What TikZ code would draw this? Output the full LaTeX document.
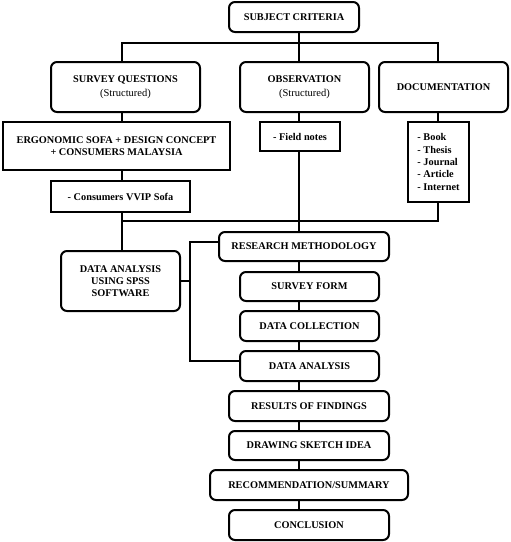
\documentclass[tikz,border=0pt]{standalone}
\usepackage{fontspec}
\setmainfont{Liberation Serif}
\usetikzlibrary{positioning}
\tikzset{
  box/.style={draw,line width=2pt,align=center,inner sep=1pt,
    font=\bfseries\fontsize{10.3}{12}\selectfont},
  rbox/.style={box,rounded corners=6pt},
  sz/.style 2 args={minimum width=#1pt,minimum height=#2pt},
  wire/.style={line width=2pt}
}
\begin{document}
\begin{tikzpicture}[x=1pt,y=-1pt]
\useasboundingbox (0,0) rectangle (511,542);
% columns and buses
\coordinate (lft) at (122,0);
\coordinate (spine) at (299,0);
\coordinate (rgt) at (438,0);
\coordinate (brk) at (190,0);
\coordinate (busA) at (0,43);
\coordinate (busB) at (0,221);
% top part
\node[rbox,sz={130}{30}] (crit) at (294,17) {SUBJECT CRITERIA};
\node[rbox,sz={149}{50}] (survey) at (125.5,87) {SURVEY QUESTIONS\\[2pt]{\mdseries\fontsize{10.5}{12}\selectfont(Structured)}};
\node[rbox,sz={129}{50}] (obs) at (304.5,87) {OBSERVATION\\[2pt]{\mdseries\fontsize{10.5}{12}\selectfont(Structured)}};
\node[rbox,sz={129}{50}] (doc) at (443.5,87) {DOCUMENTATION};
\node[box,sz={227}{48}] (ergo) at (116.5,146) {ERGONOMIC SOFA + DESIGN CONCEPT\\+ CONSUMERS MALAYSIA};
\node[box,sz={80}{29}] (notes) at (300,136.5) {- Field notes};
\node[box,sz={61}{80},align=left,font=\bfseries\fontsize{10.3}{12.3}\selectfont] (refs) at (438.5,162) {- Book\\- Thesis\\- Journal\\- Article\\- Internet};
\node[box,sz={139}{31}] (vvip) at (120.5,196.5) {- Consumers VVIP Sofa};
\node[rbox,sz={119}{60}] (spss) at (120.5,281) {DATA ANALYSIS\\USING SPSS\\SOFTWARE};
% main column
\node[rbox,sz={170}{29}] (method) at (304,246.5) {RESEARCH METHODOLOGY};
\node[rbox,sz={139}{29}] (form) at (309.5,286.5) {SURVEY FORM};
\node[rbox,sz={139}{30}] (collect) at (309.5,326) {DATA COLLECTION};
\node[rbox,sz={139}{30}] (analysis) at (309.5,366) {DATA ANALYSIS};
\node[rbox,sz={160}{30}] (results) at (309,406) {RESULTS OF FINDINGS};
\node[rbox,sz={160}{29}] (sketch) at (309,445.5) {DRAWING SKETCH IDEA};
\node[rbox,sz={198}{30}] (summary) at (309,485) {RECOMMENDATION/SUMMARY};
\node[rbox,sz={160}{30}] (concl) at (309,525) {CONCLUSION};
% connectors
\draw[wire] (crit.south -| spine) -- (obs.north -| spine);
\draw[wire] (survey.north -| lft) -- (lft |- busA) -- (rgt |- busA) -- (doc.north -| rgt);
\draw[wire] (survey.south -| lft) -- (ergo.north -| lft);
\draw[wire] (ergo.south -| lft) -- (vvip.north -| lft);
\draw[wire] (vvip.south -| lft) -- (spss.north -| lft);
\draw[wire] (obs.south -| spine) -- (notes.north -| spine);
\draw[wire] (notes.south -| spine) -- (method.north -| spine);
\draw[wire] (doc.south -| rgt) -- (refs.north -| rgt);
\draw[wire] (lft |- busB) -- (rgt |- busB) -- (refs.south -| rgt);
\draw[wire] ([yshift=5pt]method.west) -| (brk |- analysis.north) |- ([yshift=5pt]analysis.west);
\draw[wire] (spss.east) -- (spss.east -| brk);
\draw[wire] (method.south -| spine) -- (form.north -| spine);
\draw[wire] (form.south -| spine) -- (collect.north -| spine);
\draw[wire] (collect.south -| spine) -- (analysis.north -| spine);
\draw[wire] (analysis.south -| spine) -- (results.north -| spine);
\draw[wire] (results.south -| spine) -- (sketch.north -| spine);
\draw[wire] (sketch.south -| spine) -- (summary.north -| spine);
\draw[wire] (summary.south -| spine) -- (concl.north -| spine);
\end{tikzpicture}
\end{document}
